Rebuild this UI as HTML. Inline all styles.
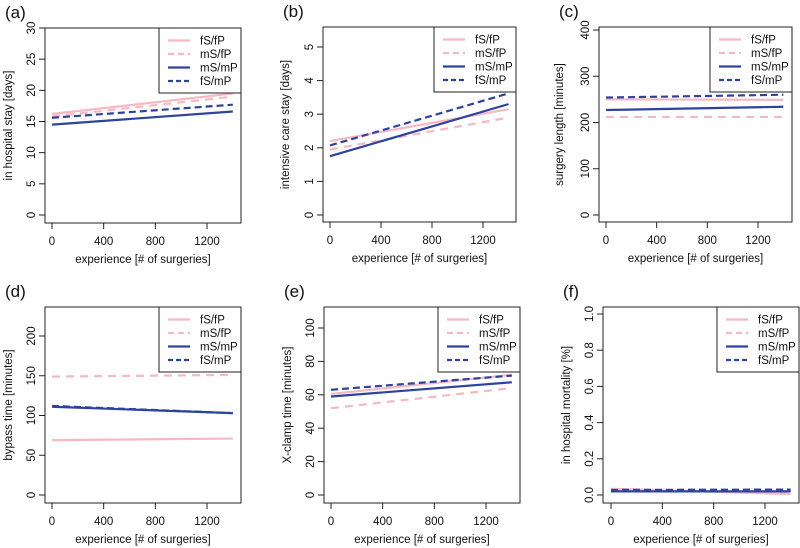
<!DOCTYPE html>
<html><head><meta charset="utf-8">
<style>
html,body{margin:0;padding:0;background:#fff;}
svg{display:block;font-family:"Liberation Sans",Arial,sans-serif;}
</style></head>
<body>
<svg id="fig" width="800" height="548" viewBox="0 0 800 548" xmlns="http://www.w3.org/2000/svg"></svg>
<script>
const seriesNames = ["fS/fP","mS/fP","mS/mP","fS/mP"];
const xStart = [0,0,0,0];
const xEnd = [1400,1400,1400,1400];
const xTicks = [0,400,800,1200];
const panelLetters = ["(a)","(b)","(c)","(d)","(e)","(f)"];
const yTitles = ["in hospital stay [days]","intensive care stay [days]","surgery length [minutes]","bypass time [minutes]","X-clamp time [minutes]","in hospital mortality [%]"];
const yTickA = ["0","5","10","15","20","25","30"];
const yTickB = ["0","1","2","3","4","5"];
const yTickC = ["0","100","200","300","400"];
const yTickD = ["0","50","100","150","200"];
const yTickE = ["0","20","40","60","80","100"];
const yTickF = ["0.0","0.2","0.4","0.6","0.8","1.0"];
// start/end values per series [fS/fP, mS/fP, mS/mP, fS/mP]
const aStart = [16.2,15.8,14.5,15.6], aEnd = [19.5,19.0,16.6,17.7];
const bStart = [2.2,1.95,1.75,2.07], bEnd = [3.15,2.9,3.3,3.62];
const cStart = [250,212,227,254], cEnd = [249,212,234,260];
const dStart = [69,149,111,112], dEnd = [71,151,103,103];
const eStart = [60.5,52,59,63], eEnd = [72,64,67.5,71.5];
const fStart = [0.035,0.03,0.02,0.028], fEnd = [0.005,0.01,0.02,0.03];

const colors=["#f5b8c4","#f5b8c4","#2d43a0","#2d43a0"];
const dashes=[null,"8,6",null,"7,4"];
const NS="http://www.w3.org/2000/svg";
const svg=document.getElementById('fig');
function mk(tag,attrs,parent){const e=document.createElementNS(NS,tag);for(const k in attrs)e.setAttribute(k,attrs[k]);(parent||svg).appendChild(e);return e;}

const panels=[
 {box:[45,28,241,223],x0:52,x1:207,y0:215,y1:28,yv:30,ticks:yTickA,s:aStart,e:aEnd,lx:12},
 {box:[323,27,516,222],x0:330,x1:483,y0:215,y1:47,yv:5,ticks:yTickB,s:bStart,e:bEnd,lx:289},
 {box:[599,27,792,222],x0:606,x1:758,y0:215,y1:30,yv:400,ticks:yTickC,s:cStart,e:cEnd,lx:563},
 {box:[45,307,241,503],x0:52,x1:207,y0:495,y1:336,yv:200,ticks:yTickD,s:dStart,e:dEnd,lx:12},
 {box:[324,307,520,503],x0:331,x1:486,y0:495,y1:328,yv:100,ticks:yTickE,s:eStart,e:eEnd,lx:291},
 {box:[603,307,799,503],x0:611,x1:765,y0:495,y1:314,yv:1,ticks:yTickF,s:fStart,e:fEnd,lx:570}
];
panels.forEach((p,i)=>{
  const g=mk('g',{});
  
  
  const [L,T,R,B]=p.box;
  const xs=v=>p.x0+(p.x1-p.x0)*v/1200;
  const ys=v=>p.y0-(p.y0-p.y1)*v/p.yv;
  const lt=mk('text',{x:L-40,y:T-10,'font-size':17,fill:'#111'},g);lt.textContent=panelLetters[i];
  
  // series
  for(let k=0;k<4;k++){
    const a={x1:xs(xStart[k]),y1:ys(p.s[k]),x2:xs(xEnd[k]),y2:ys(p.e[k]),stroke:colors[k],'stroke-width':2.2};
    if(dashes[k])a['stroke-dasharray']=dashes[k];
    const l=mk('line',a,g);
    
    
  }
  const box=mk('rect',{x:L,y:T,width:R-L,height:B-T,fill:'none',stroke:'#222','stroke-width':1},g);
  
  // x axis
  const xa=mk('g',{},g);
  mk('line',{x1:xs(0),y1:B,x2:xs(1200),y2:B,stroke:'#222'},xa);
  xTicks.forEach(t=>{mk('line',{x1:xs(t),y1:B,x2:xs(t),y2:B+6,stroke:'#222'},xa);
    const tx=mk('text',{x:xs(t),y:B+22,'font-size':11.5,'text-anchor':'middle',fill:'#111'},xa);tx.textContent=t;});
  const xt=mk('text',{x:(L+R)/2,y:B+40,'font-size':11.5,'text-anchor':'middle',fill:'#111'},g);
  xt.textContent='experience [# of surgeries]';
  
  // y axis
  const ya=mk('g',{},g);
  const n=p.ticks.length;const step=p.yv/(n-1);
  mk('line',{x1:L,y1:ys(0),x2:L,y2:ys(p.yv),stroke:'#222'},ya);
  p.ticks.forEach((t,j)=>{const yy=ys(j*step);
    mk('line',{x1:L-6,y1:yy,x2:L,y2:yy,stroke:'#222'},ya);
    const tx=mk('text',{x:L-10,y:yy,'font-size':11.5,'text-anchor':'middle',fill:'#111',transform:`rotate(-90 ${L-10} ${yy})`},ya);tx.textContent=t;});
  const yt=mk('text',{x:p.lx,y:(T+B)/2,'font-size':11.5,'text-anchor':'middle',fill:'#111',transform:`rotate(-90 ${p.lx} ${(T+B)/2})`},g);
  yt.textContent=yTitles[i];
  
  // legend
  const lg=mk('g',{},g);
  mk('rect',{x:R-82,y:T,width:82,height:65,fill:'#fff',stroke:'#222'},lg);
  for(let k=0;k<4;k++){
    const yy=T+12.5+k*13.5;
    const a={x1:R-73,y1:yy,x2:R-51,y2:yy,stroke:colors[k],'stroke-width':2.2};
    if(dashes[k])a['stroke-dasharray']=dashes[k]==="8,6"?"6,4":"5,3";
    mk('line',a,lg);
    const tx=mk('text',{x:R-41,y:yy+4,'font-size':11.5,fill:'#111'},lg);tx.textContent=seriesNames[k];
    
  }
});
</script>
</body></html>
